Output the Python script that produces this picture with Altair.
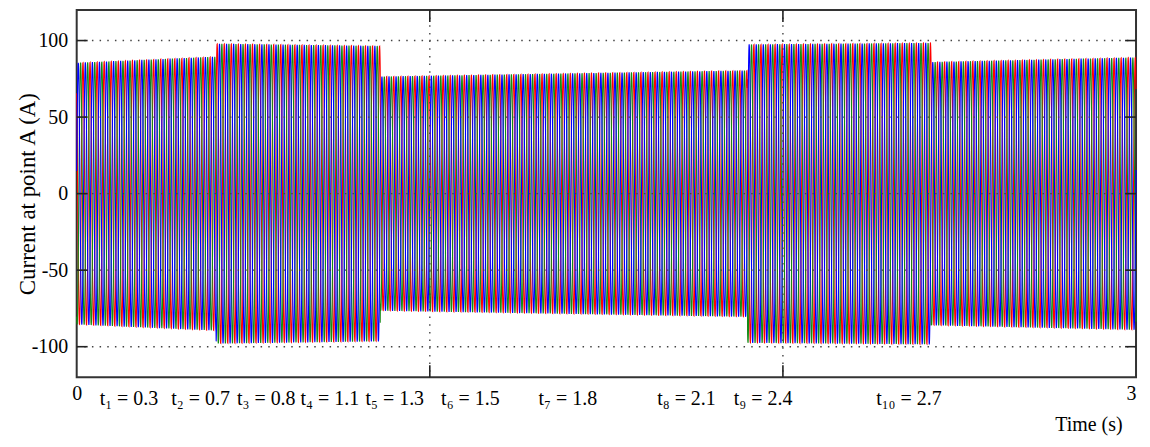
import altair as alt
import numpy as np
import pandas as pd

# ---- values ----
freq_hz = 50.0
seg_start = [0.0, 0.395, 0.86, 1.90, 2.42]
seg_end = [0.395, 0.86, 1.90, 2.42, 3.0]
amp_start = [85.5, 98.0, 76.5, 97.5, 86.0]
amp_end = [89.5, 96.5, 80.5, 98.5, 89.0]
phase_names = ["Phase a", "Phase b", "Phase c"]
phase_deg = [130.0, 250.0, 10.0]
phase_colors = ["#ff0000", "#138a13", "#0000ff"]

y_ticks = [-100, -50, 0, 50, 100]
x_grid = [1, 2]
x_tick_labels = [0, 3]

event_labels = ["t\u2081 = 0.3", "t\u2082 = 0.7", "t\u2083 = 0.8", "t\u2084 = 1.1",
                "t\u2085 = 1.3", "t\u2086 = 1.5", "t\u2087 = 1.8", "t\u2088 = 2.1",
                "t\u2089 = 2.4", "t\u2081\u2080 = 2.7"]
label_pos = [0.065, 0.268, 0.454, 0.634, 0.818, 1.032, 1.308, 1.644, 1.861, 2.264]

# ---- build the three-phase waveform table ----
dt = 0.0005
t = np.round(np.arange(0.0, 3.0 + dt / 2, dt), 5)
amp = np.zeros_like(t)
for s, e, a0, a1 in zip(seg_start, seg_end, amp_start, amp_end):
    m = (t >= s) & (t <= e)
    amp[m] = a0 + (a1 - a0) * (t[m] - s) / (e - s)

rows = []
for name, ph in zip(phase_names, phase_deg):
    v = amp * np.sin(2 * np.pi * freq_hz * t + np.deg2rad(ph))
    rows.append(pd.DataFrame({"t": t, "i": np.round(v, 2), "phase": name}))
wave = pd.concat(rows, ignore_index=True)

W, H = 1064, 369
FONT = "Liberation Serif"

xscale = alt.Scale(domain=[0, 3], nice=False, zero=False)
yscale = alt.Scale(domain=[-120, 120], nice=False, zero=False)

lines = alt.Chart(wave).mark_line(strokeWidth=1.1).encode(
    x=alt.X("t:Q", scale=xscale,
            axis=alt.Axis(values=x_tick_labels, labelPadding=6, labelFlush=False,
                          labelExpr="'' + datum.value",
                          labelAlign={"condition": {"test": "datum.value >= 3", "value": "right"},
                                      "value": "center"},
                          title="Time (s)",
                          titleX=1050, titleY=47, titleAlign="right",
                          titleBaseline="middle", titleAnchor="end")),
    y=alt.Y("i:Q", scale=yscale,
            axis=alt.Axis(values=y_ticks, labelPadding=9,
                          labelExpr="'' + datum.value",
                          title="Current at point A (A)", titleFontSize=23,
                          titleX=-49, titleY=H / 2,
                          titleAngle=-90, titleAlign="center",
                          titleBaseline="middle")),
    color=alt.Color("phase:N", scale=alt.Scale(domain=phase_names, range=phase_colors),
                    legend=None),
    detail="phase:N",
)

ydf = pd.DataFrame({"v": y_ticks})
xdf = pd.DataFrame({"g": x_grid})

hgrid = alt.Chart(ydf).mark_rule(color="#444", strokeDash=[1.5, 6.2], strokeWidth=1.4).encode(
    y=alt.Y("v:Q", scale=yscale))
vgrid = alt.Chart(xdf).mark_rule(color="#444", strokeDash=[1.5, 6.2], strokeWidth=1.4).encode(
    x=alt.X("g:Q", scale=xscale))

tick_left = alt.Chart(ydf).mark_rule(color="#222", strokeWidth=1.6).encode(
    y=alt.Y("v:Q", scale=yscale), x=alt.value(0), x2=alt.value(11))
tick_right = alt.Chart(ydf).mark_rule(color="#222", strokeWidth=1.6).encode(
    y=alt.Y("v:Q", scale=yscale), x=alt.value(W - 11), x2=alt.value(W))
tick_top = alt.Chart(xdf).mark_rule(color="#222", strokeWidth=1.6).encode(
    x=alt.X("g:Q", scale=xscale), y=alt.value(0), y2=alt.value(12))
tick_bot = alt.Chart(xdf).mark_rule(color="#222", strokeWidth=1.6).encode(
    x=alt.X("g:Q", scale=xscale), y=alt.value(H - 12), y2=alt.value(H))

ldf = pd.DataFrame({"pos": label_pos, "label": event_labels})
labels = alt.Chart(ldf).mark_text(align="left", baseline="middle", font=FONT,
                                  fontSize=20, color="black").encode(
    x=alt.X("pos:Q", scale=xscale),
    y=alt.value(H + 22),
    text="label:N",
)

chart = alt.layer(lines, hgrid, vgrid, tick_left, tick_right, tick_top, tick_bot, labels).properties(
    width=W, height=H,
    padding={"left": 69, "top": 1, "right": 6, "bottom": 61},
    autosize=alt.AutoSizeParams(type="none"),
    background="white",
).configure_view(
    stroke="#333", strokeWidth=2
).configure_axis(
    grid=False, ticks=False, domain=False,
    labelFont=FONT, labelFontSize=20, labelColor="black",
    titleFont=FONT, titleFontSize=20, titleFontWeight="normal", titleColor="black",
)

chart.save("out.html", embed_options={"renderer": "svg", "actions": False})
